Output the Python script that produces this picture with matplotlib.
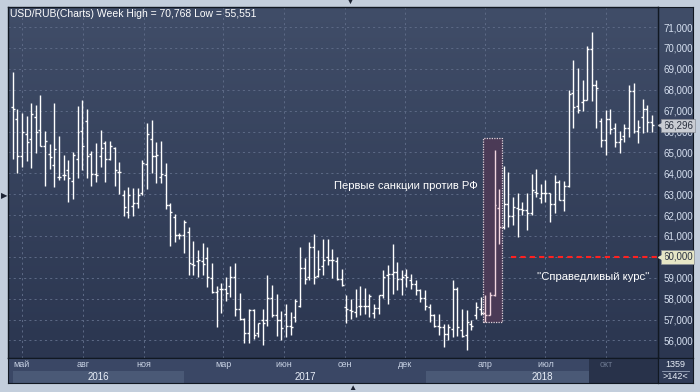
import matplotlib
matplotlib.use("Agg")
import matplotlib.pyplot as plt
import matplotlib.dates as mdates
from matplotlib.patches import Rectangle
import numpy as np
import pandas as pd

plt.rcParams['font.family'] = ['Liberation Sans', 'DejaVu Sans']

# weekly USD/RUB bars
opens = [67.16, 66.58, 64.81, 65.88, 65.62, 66.68, 66.07, 65.32, 64.91, 64.38,
         63.81, 63.92, 64.16, 63.63, 64.67, 66.02, 66.50, 64.91, 63.95, 64.84,
         65.43, 64.67, 65.19, 64.05, 62.96, 62.16, 62.45, 62.56, 63.07, 64.44,
         65.62, 64.85, 63.84, 63.90, 62.48, 61.90, 61.04, 61.04, 61.20, 59.66,
         59.80, 59.82, 59.93, 58.97, 58.33, 58.45, 58.45, 58.60, 59.02, 57.49,
         57.01, 56.34, 57.46, 56.37, 56.98, 56.96, 58.03, 57.20, 56.99, 57.28,
         56.69, 57.12, 57.63, 59.48, 59.03, 60.47, 59.07, 59.55, 59.99, 59.83,
         59.80, 58.95, 57.60, 57.44, 57.36, 57.63, 57.63, 57.63, 57.31, 57.55,
         58.16, 59.11, 59.19, 59.27, 58.92, 59.11, 58.88, 58.68, 58.40, 58.05,
         57.60, 57.20, 56.69, 56.64, 56.29, 56.56, 58.48, 56.48, 56.24, 56.80,
         57.20, 57.52, 57.31, 57.22, 58.18, 62.32, 61.41, 62.52, 61.95, 62.32,
         62.27, 62.24, 62.08, 63.12, 62.80, 63.04, 63.04, 62.53, 63.59, 62.72,
         63.39, 67.85, 67.20, 67.40, 67.50, 69.93, 68.22, 66.51, 65.59, 66.62,
         66.19, 65.51, 65.78, 66.19, 67.95, 66.02, 66.71, 67.10, 66.47]
highs = [68.86, 67.06, 66.90, 66.74, 67.38, 67.27, 67.75, 66.04, 65.39, 67.35,
         65.78, 64.87, 64.64, 65.03, 67.22, 67.51, 67.06, 65.08, 65.43, 66.07,
         65.54, 65.54, 65.27, 64.56, 63.20, 63.36, 63.31, 63.31, 64.63, 66.39,
         66.55, 65.51, 65.54, 64.50, 62.60, 62.05, 61.16, 61.76, 61.41, 60.77,
         60.33, 60.65, 60.45, 59.69, 58.60, 58.73, 59.05, 59.56, 59.69, 58.25,
         57.06, 57.49, 57.49, 56.85, 57.49, 59.11, 58.64, 58.21, 57.39, 57.73,
         57.36, 57.97, 60.47, 59.96, 60.71, 61.08, 60.31, 60.87, 60.87, 60.39,
         59.99, 59.43, 58.16, 58.00, 58.48, 58.59, 58.52, 58.24, 57.76, 58.19,
         59.35, 59.59, 60.63, 59.75, 59.35, 59.43, 59.19, 58.88, 58.48, 58.40,
         57.76, 57.28, 57.28, 56.80, 56.80, 58.88, 58.56, 57.52, 57.44, 56.96,
         57.84, 58.08, 58.16, 58.30, 65.11, 63.23, 64.36, 64.07, 62.88, 63.04,
         62.64, 63.04, 63.96, 64.23, 63.51, 63.67, 63.04, 63.91, 63.67, 63.64,
         67.98, 69.42, 69.02, 68.46, 70.09, 70.77, 68.46, 66.67, 67.05, 67.10,
         66.39, 66.02, 66.35, 68.22, 68.33, 66.55, 67.58, 67.26, 66.78]
lows = [64.68, 64.03, 64.28, 64.59, 64.27, 64.95, 65.32, 63.41, 64.19, 63.36,
        63.68, 63.68, 62.64, 62.75, 63.79, 64.16, 63.79, 63.41, 63.60, 64.32,
        63.60, 64.64, 63.41, 62.99, 61.97, 61.88, 61.97, 62.32, 62.96, 63.25,
        64.03, 63.52, 63.55, 62.27, 60.52, 60.73, 60.84, 60.17, 59.13, 59.13,
        59.02, 59.13, 58.57, 58.25, 56.63, 57.33, 57.90, 58.09, 57.17, 56.98,
        55.89, 55.86, 56.05, 56.15, 55.78, 56.69, 57.12, 56.20, 56.04, 56.16,
        56.24, 56.88, 57.60, 58.68, 58.88, 58.72, 59.03, 59.11, 59.59, 59.00,
        58.88, 58.59, 56.83, 57.04, 57.12, 57.20, 57.28, 57.12, 57.09, 57.28,
        58.05, 57.76, 58.24, 58.40, 58.16, 58.56, 58.48, 58.16, 57.84, 57.44,
        56.88, 56.64, 56.24, 55.69, 56.00, 56.16, 56.20, 56.16, 55.55, 56.48,
        57.04, 57.20, 56.88, 57.20, 58.15, 60.64, 61.35, 61.44, 61.52, 60.96,
        62.00, 61.28, 62.00, 62.85, 62.59, 62.64, 61.68, 62.11, 62.72, 62.21,
        63.36, 66.15, 66.90, 66.99, 67.50, 67.47, 66.15, 65.24, 64.90, 65.90,
        65.27, 64.98, 65.51, 65.75, 65.94, 65.46, 65.94, 65.99, 65.99]
closes = [67.09, 64.81, 65.99, 65.48, 66.84, 65.99, 65.32, 65.54, 64.79, 65.15,
          63.84, 63.92, 63.76, 64.87, 65.99, 65.32, 64.81, 63.95, 63.92, 65.19,
          64.67, 65.30, 64.16, 64.05, 62.39, 62.96, 62.56, 62.96, 64.47, 65.88,
          64.85, 64.90, 63.99, 62.48, 62.16, 61.04, 61.04, 61.68, 59.69, 59.61,
          59.85, 59.66, 59.05, 58.33, 58.37, 58.45, 58.28, 59.05, 57.49, 57.01,
          56.34, 57.46, 56.26, 56.82, 56.85, 58.03, 57.20, 56.99, 56.61, 56.69,
          56.64, 57.87, 59.48, 58.95, 60.47, 59.03, 59.43, 59.83, 59.86, 59.86,
          58.95, 58.64, 57.52, 57.39, 57.60, 57.63, 57.63, 58.15, 57.55, 58.16,
          59.03, 59.19, 59.27, 58.92, 59.03, 59.03, 58.68, 58.40, 58.05, 57.63,
          57.20, 56.69, 56.64, 56.32, 56.64, 58.48, 56.64, 56.21, 56.88, 56.69,
          57.60, 57.31, 57.20, 58.18, 62.48, 61.41, 62.52, 61.95, 62.40, 62.27,
          62.24, 62.08, 63.20, 63.04, 63.04, 63.04, 62.53, 63.56, 62.72, 63.39,
          67.79, 67.15, 67.05, 67.50, 69.93, 68.22, 68.06, 65.59, 66.62, 66.11,
          65.48, 65.64, 66.19, 67.95, 66.02, 66.23, 67.10, 66.47, 66.30]

first_week = "2016-04-17"
sanction_weeks = [102, 103, 104, 105]
month_dates = ["2016-05-01", "2016-08-01", "2016-11-01", "2017-03-01", "2017-06-01",
               "2017-09-01", "2017-12-01", "2018-04-01", "2018-07-01", "2018-10-01"]
month_labels = ["май", "авг", "ноя", "мар", "июн", "сен", "дек", "апр", "июл", "окт"]
year_labels = ["2016", "2017", "2018"]
year_starts = ["2016-04-17", "2017-01-01", "2018-01-01"]
price_ticks = list(range(56, 72))
last_close = 66.296
fair_rate = 60.0

W, H = 700, 392


def px_rect(x0, y0, x1, y1):
    return [x0 / W, 1 - y1 / H, (x1 - x0) / W, (y1 - y0) / H]


def gradient(a, top, bottom):
    cmap = matplotlib.colors.LinearSegmentedColormap.from_list("g", [bottom, top])
    a.imshow(np.linspace(0, 1, 256).reshape(-1, 1), cmap=cmap, aspect="auto",
             extent=[0, 1, 0, 1], origin="lower", transform=a.transAxes, zorder=0)


fig = plt.figure(figsize=(W / 100, H / 100), dpi=100, facecolor="#c3cedc")

weeks = pd.date_range(first_week, periods=len(closes), freq="7D")
x = mdates.date2num(weeks)
x_left = mdates.date2num(pd.Timestamp("2016-04-10"))
x_right = x_left + 982

# right price panel
axr = fig.add_axes(px_rect(658, 7, 693, 358), zorder=0)
gradient(axr, "#404d68", "#2b3650")
axr.set_xticks([])
axr.set_yticks([])
for s in axr.spines.values():
    s.set_color("#111822")

ax = fig.add_axes(px_rect(8, 7, 658, 358), zorder=1)
gradient(ax, "#404d68", "#2b3650")
ax.set_xlim(x_left, x_right)
ax.set_ylim(55.16, 71.96)

month_x = mdates.date2num(pd.to_datetime(month_dates))
ax.set_xticks(month_x)
ax.set_yticks(price_ticks)
ax.set_yticklabels([f"{p},000" for p in price_ticks])
ax.yaxis.tick_right()
ax.tick_params(axis="x", length=0, labelbottom=False)
ax.tick_params(axis="y", length=0, pad=4, labelsize=7, labelcolor="#d6e0f0")
ax.grid(True, color="#5b6884", linestyle=(0, (2, 3)), lw=0.75, zorder=1)
for s in ax.spines.values():
    s.set_color("#111822")
    s.set_linewidth(1)

# highlighted sanctions weeks
rx0 = x[sanction_weeks[0]] - 3
rx1 = x[sanction_weeks[-1]] + 5
ax.add_patch(Rectangle((rx0, 56.89), rx1 - rx0, 65.69 - 56.89, facecolor="#4b3a56",
                       edgecolor="#ddd0d8", lw=0.9, linestyle=(0, (1, 1)), zorder=2))

colors = ["#f2d6df" if i in sanction_weeks else "white" for i in range(len(closes))]
ax.vlines(x, lows, highs, colors=colors, lw=1.0, zorder=3)
ax.hlines(opens, x - 3, x, colors=colors, lw=1.0, zorder=3)
ax.hlines(closes, x, x + 3, colors=colors, lw=1.0, zorder=3)

# fair rate line
ax.hlines(fair_rate, mdates.date2num(pd.Timestamp("2018-05-10")), x_right,
          colors="#ff2020", linestyles=(0, (2.5, 2)), lw=1.5, zorder=3)

ax.text(mdates.date2num(pd.Timestamp("2018-03-20")), 63.39, "Первые санкции против РФ",
        color="white", fontsize=8.1, ha="right", va="center", zorder=4)
ax.text(mdates.date2num(pd.Timestamp("2018-06-18")), 59.04, "''Справедливый курс''",
        color="white", fontsize=8.1, ha="left", va="center", zorder=4)

ax.text(0.003, 0.98, "USD/RUB(Charts) Week High = 70,768 Low = 55,551", transform=ax.transAxes,
        color="white", fontsize=7.5, ha="left", va="center", zorder=4)

# price boxes on the right scale
trans = matplotlib.transforms.blended_transform_factory(ax.transAxes, ax.transData)
for val, txt, bg in [(last_close, "66,296", "#c9ccd3"), (fair_rate, "60,000", "#e6e6c6")]:
    ax.text(1 + 5 / 650, val, txt, transform=trans, fontsize=7, color="#2a3140",
            ha="left", va="center", zorder=6, clip_on=False,
            bbox=dict(boxstyle="square,pad=0.18", facecolor=bg, edgecolor="#8a8f98", lw=0.5))
    ax.plot([1 + 3 / 650], [val], marker="<", markersize=4, color=bg, transform=trans,
            clip_on=False, zorder=6)

# bottom time strip
axb = fig.add_axes(px_rect(8, 358, 658, 383), zorder=1)
axb.set_facecolor("#3a4765")
axb.set_xlim(x_left, x_right)
axb.set_ylim(0, 2)
axb.set_xticks([])
axb.set_yticks([])
for s in axb.spines.values():
    s.set_color("#111822")
year_x = list(mdates.date2num(pd.to_datetime(year_starts))) + [x_right]
for i, lab in enumerate(year_labels):
    if i % 2 == 0:
        axb.add_patch(Rectangle((year_x[i], 0), year_x[i + 1] - year_x[i], 1,
                                facecolor="#4a5976", lw=0))
    axb.text((year_x[i] + year_x[i + 1]) / 2, 0.5, lab, color="#e8eef8", fontsize=7,
             ha="center", va="center")
oct_x = mdates.date2num(pd.Timestamp("2018-09-05"))
axb.add_patch(Rectangle((oct_x, 0), x_right - oct_x, 2, facecolor="#28324a", lw=0))
for mx, lab in zip(month_x, month_labels):
    axb.text(mx, 1.5, lab, color="#6c7890" if mx > oct_x else "#c8d2e4", fontsize=6.5,
             ha="center", va="center")

axc = fig.add_axes(px_rect(658, 358, 693, 383), zorder=1)
axc.set_facecolor("#2f3b57")
axc.set_xticks([])
axc.set_yticks([])
for s in axc.spines.values():
    s.set_color("#111822")
axc.text(0.5, 0.74, "1359", color="#e8eef8", fontsize=6.5, ha="center", va="center",
         transform=axc.transAxes)
axc.plot([0.12, 0.88], [0.5, 0.5], color="#9aa6bc", lw=0.6, transform=axc.transAxes)
axc.text(0.5, 0.25, ">142<", color="#e8eef8", fontsize=6.5, ha="center", va="center",
         transform=axc.transAxes)

# little navigation arrows of the chart window
fig.text(0.5 / W, 1 - 197 / H, "▶", fontsize=6, color="#1c2333", ha="left", va="center")
fig.text(350 / W, 1 - 2 / H, "▼", fontsize=5, color="#1c2333", ha="center", va="center")
fig.text(352 / W, 1 - 389 / H, "▲", fontsize=6, color="#1c2333", ha="center", va="center")

fig.savefig("out.png", dpi=100, facecolor=fig.get_facecolor())
